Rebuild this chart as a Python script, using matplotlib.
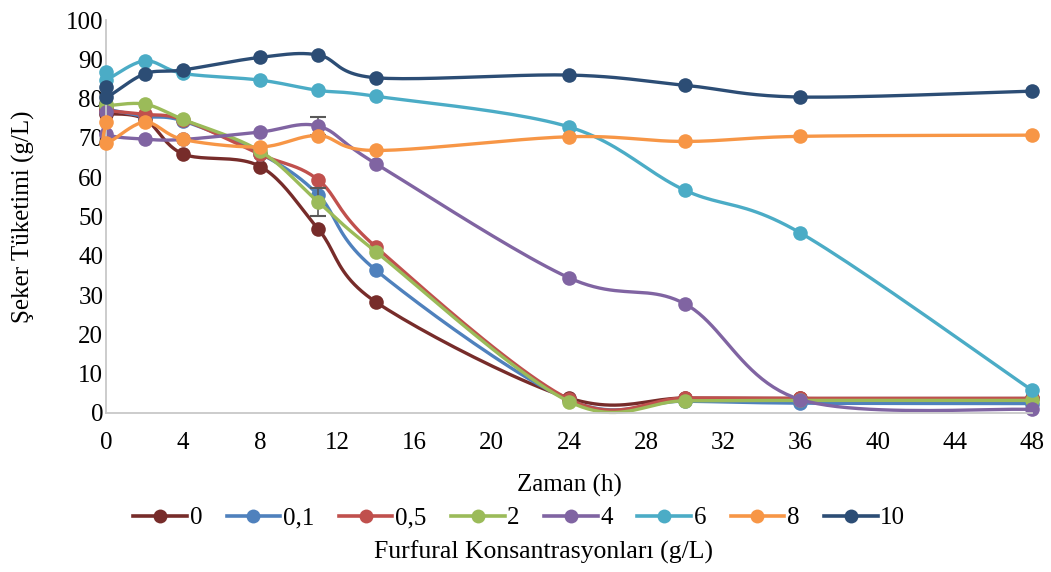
import matplotlib
matplotlib.use("Agg")
import matplotlib.pyplot as plt
from matplotlib.lines import Line2D
import numpy as np

plt.rcParams['font.family'] = ['Liberation Serif', 'DejaVu Serif']

# sampling times (h); t=0 was measured twice
zaman = [0, 0, 2, 4, 8, 11, 14, 24, 30, 36, 48]

labels = ['0', '0,1', '0,5', '2', '4', '6', '8', '10']
colors = ['#772C2A', '#4F81BD', '#C0504D', '#9BBB59',
          '#8064A2', '#4BACC6', '#F79646', '#2C4D75']

seker_0 = [76.5, 76.2, 74.8, 65.9, 62.7, 46.8, 28.2, 3.8, 3.8, 3.7, 3.7]
seker_01 = [77.8, 77.4, 75.5, 74.3, 66.0, 55.5, 36.3, 3.3, 3.0, 2.5, 2.4]
seker_05 = [77.3, 77.0, 76.0, 74.6, 65.8, 59.3, 42.2, 3.5, 3.8, 3.7, 3.7]
seker_2 = [78.6, 78.2, 78.6, 74.7, 66.6, 53.7, 41.0, 2.9, 3.1, 3.2, 3.2]
seker_4 = [76.6, 71.1, 69.7, 69.6, 71.5, 73.0, 63.4, 34.4, 27.8, 3.4, 0.9]
seker_6 = [86.8, 84.8, 89.6, 86.4, 84.7, 82.1, 80.6, 72.8, 56.7, 45.8, 5.8]
seker_8 = [74.0, 68.7, 74.0, 69.6, 67.7, 70.6, 66.8, 70.3, 69.1, 70.4, 70.7]
seker_10 = [83.0, 80.3, 86.3, 87.3, 90.5, 91.1, 85.3, 86.0, 83.4, 80.4, 81.9]

# standard deviations (only the visible ones)
hata_2 = [0, 0, 0, 0, 0, 3.6, 0, 0, 0, 0, 0]
hata_4 = [0, 0, 0, 0, 0, 2.2, 0, 0, 0, 0, 0]

series = [seker_0, seker_01, seker_05, seker_2, seker_4, seker_6, seker_8, seker_10]
errors = {3: hata_2, 4: hata_4}

fig = plt.figure(figsize=(10.51, 5.72), dpi=100)
ax = fig.add_axes([0.1009, 0.278, 0.8810, 0.687])

# pixel scale of the axes, used for the smoothed curves
sx = 926 / 48.0
sy = 393 / 100.0


def smooth(xs, ys, n=24):
    # Bezier smoothing through every point (Catmull-Rom style, in pixel space)
    P = np.column_stack([np.asarray(xs, float) * sx, np.asarray(ys, float) * sy])
    Q = np.vstack([P[0], P, P[-1]])
    t = np.linspace(0, 1, n)[:, None]
    out = []
    for i in range(len(P) - 1):
        p0, p1, p2, p3 = Q[i], Q[i + 1], Q[i + 2], Q[i + 3]
        c1 = p1 + (p2 - p0) / 6.0
        c2 = p2 - (p3 - p1) / 6.0
        seg = ((1 - t) ** 3) * p1 + 3 * ((1 - t) ** 2) * t * c1 \
            + 3 * (1 - t) * t ** 2 * c2 + t ** 3 * p2
        out.append(seg)
    out = np.vstack(out)
    return out[:, 0] / sx, out[:, 1] / sy


handles = []
for k, (vals, col, lab) in enumerate(zip(series, colors, labels)):
    cx, cy = smooth(zaman, vals)
    ax.plot(cx, cy, color=col, linewidth=2.4, zorder=2 + k * 0.1,
            solid_capstyle='round', clip_on=False)
    if k in errors:
        err = np.array(errors[k])
        m = err > 0
        ax.errorbar(np.array(zaman)[m], np.array(vals)[m], yerr=err[m], fmt='none',
                    ecolor='#595959', elinewidth=1.2, capsize=6, capthick=1.5,
                    zorder=2 + k * 0.1)
    ax.plot(zaman, vals, linestyle='none', marker='o', markersize=10.5,
            color=col, markeredgewidth=0, zorder=2.05 + k * 0.1, clip_on=False)
    handles.append(Line2D([0], [0], color=col, linewidth=2.6, marker='o',
                          markersize=10, markeredgewidth=0))

ax.set_xlim(0, 48)
ax.set_ylim(0, 100)
ax.set_xticks(np.arange(0, 49, 4))
ax.set_yticks(np.arange(0, 101, 10))
ax.tick_params(length=0, labelsize=18)
ax.tick_params(axis='x', pad=14)
ax.tick_params(axis='y', pad=2)
for side in ['top', 'right']:
    ax.spines[side].set_visible(False)
for side in ['left', 'bottom']:
    ax.spines[side].set_color('#C8C8C8')
    ax.spines[side].set_linewidth(1.3)

ax.set_xlabel('Zaman (h)', fontsize=18, labelpad=14)
ax.set_ylabel('Şeker Tüketimi (g/L)', fontsize=18, labelpad=22)

fig.legend(handles, labels, loc='center', bbox_to_anchor=(0.494, 0.094), ncol=8,
           frameon=False, fontsize=18, handlelength=2.15, handletextpad=0.1,
           columnspacing=0.98)
fig.text(0.517, 0.035, 'Furfural Konsantrasyonları (g/L)', ha='center',
         va='center', fontsize=18.5)

plt.savefig("out.png", dpi=100)
